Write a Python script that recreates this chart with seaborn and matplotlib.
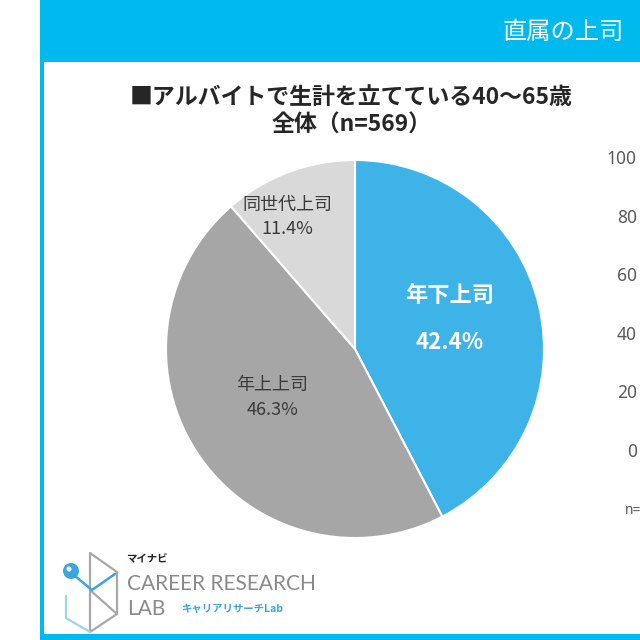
import matplotlib
matplotlib.use("Agg")
import matplotlib.pyplot as plt
import seaborn as sns
import numpy as np
from matplotlib.patches import Rectangle, Circle
from matplotlib.lines import Line2D

# ---------------- data ----------------
header_text = "直属の上司"
title_line1 = "■アルバイトで生計を立てている40～65歳"
title_line2 = "全体（n=569）"
categories = ["年下上司", "年上上司", "同世代上司"]
shares = [42.4, 46.3, 11.4]
side_ticks = [0, 20, 40, 60, 80, 100]
side_note = "n="
logo_top = "マイナビ"
logo_main = "CAREER RESEARCH"
logo_lab = "LAB"
logo_sub = "キャリアリサーチLab"

# ---------------- style ----------------
slice_colors = ["#3db3e8", "#a6a6a6", "#d9d9d9"]
label_colors = ["white", "#3a3a3a", "#3a3a3a"]
label_weights = ["bold", "normal", "normal"]
label_sizes = [16, 13, 13]
label_dist = [0.525, 0.505, 0.785]
label_turn = [3.8, -4.0, 6.6]   # degrees from the slice's middle
label_gap = [17, 9, 8.5]   # half distance between the two lines (points)
HEADER = "#00b9ef"

sns.set_theme(style="white")
plt.rcParams['font.family'] = ['Noto Sans CJK JP', 'DejaVu Sans']

W = H = 640
fig = plt.figure(figsize=(6.4, 6.4), dpi=100)
fig.patch.set_facecolor("white")


def fx(px):
    return px / W


def fy(py):
    return 1 - py / H


# frame
fig.add_artist(Rectangle((fx(40), fy(62)), 1 - fx(40), 62 / H,
                         transform=fig.transFigure, color=HEADER, lw=0))
fig.add_artist(Rectangle((fx(40), 0), 4 / W, 1,
                         transform=fig.transFigure, color=HEADER, lw=0))
fig.add_artist(Rectangle((fx(40), 0), 1 - fx(40), 6 / H,
                         transform=fig.transFigure, color=HEADER, lw=0))
fig.text(fx(502), fy(32), header_text, color="white", fontsize=17.5,
         ha="left", va="center")

# titles
fig.text(fx(351), fy(98), title_line1, fontsize=16.5, fontweight="bold",
         color="#262626", ha="center", va="center")
fig.text(fx(352), fy(125), title_line2, fontsize=16.5, fontweight="bold",
         color="#262626", ha="center", va="center")

# pie
ax = fig.add_axes([fx(166), fy(539), 378 / W, 380 / H])
wedges, _ = ax.pie(shares, colors=slice_colors, startangle=90,
                   counterclock=False,
                   wedgeprops=dict(edgecolor="white", linewidth=1.5))
ax.set_aspect("equal")
ax.set_xlim(-1.0, 1.0)
ax.set_ylim(-1.0, 1.0)
ax.axis("off")

for w, name, val, r, turn, gap, c, fw, fs in zip(
        wedges, categories, shares, label_dist, label_turn, label_gap,
        label_colors, label_weights, label_sizes):
    th = np.deg2rad((w.theta1 + w.theta2) / 2 + turn)
    x, y = r * np.cos(th), r * np.sin(th)
    ax.annotate(name, (x, y), xytext=(0, gap), textcoords="offset points",
                ha="center", va="center", color=c, fontweight=fw,
                fontsize=fs)
    ax.annotate(f"{val:.1f}%", (x, y), xytext=(0, -gap),
                textcoords="offset points", ha="center", va="center",
                color=c, fontweight=fw, fontsize=fs)

# partial side axis (cut off at the right edge)
ax2 = fig.add_axes([fx(645), fy(450), 0.1, (450 - 157) / H])
ax2.set_ylim(0, 100)
ax2.set_yticks(side_ticks)
ax2.set_xticks([])
ax2.tick_params(axis="y", left=False, labelsize=12.5, labelcolor="#595959",
                pad=0)
for lab in ax2.get_yticklabels():
    lab.set_family(["Noto Sans", "DejaVu Sans"])
for s in ax2.spines.values():
    s.set_visible(False)
ax2.patch.set_alpha(0)
fig.text(fx(641), fy(511), side_note, fontsize=10, color="#595959",
         ha="right", va="center", family=["Noto Sans", "DejaVu Sans"])

# logo
GREY = "#a8a8a8"
BLUE = "#3aa6dd"


def line(pts, color, lw):
    xs = [fx(p[0]) for p in pts]
    ys = [fy(p[1]) for p in pts]
    fig.add_artist(Line2D(xs, ys, transform=fig.transFigure, color=color,
                          lw=lw, solid_capstyle="round"))


line([(90, 553), (117, 572), (117, 614), (90, 632), (90, 553)], GREY, 1.6)
line([(90, 590), (117, 614)], GREY, 1.6)
line([(66, 596), (66, 618), (90, 632)], "#9fd3ee", 1.6)
line([(75, 576), (92, 590), (115, 574)], BLUE, 1.8)
fig.add_artist(Circle((fx(71), fy(571)), 8 / W, transform=fig.transFigure,
                      color=BLUE, lw=0))
fig.add_artist(Circle((fx(69), fy(569)), 2.5 / W, transform=fig.transFigure,
                      color="white", lw=0))

fig.text(fx(126), fy(559), logo_top, fontsize=7.5, fontweight="bold",
         color="#222222", ha="left", va="center")
fig.text(fx(127), fy(584), logo_main, fontsize=15, fontweight="normal",
         color="#8a8a8a", ha="left", va="center", family=["Lato", "DejaVu Sans"])
fig.text(fx(127), fy(609), logo_lab, fontsize=15, fontweight="normal",
         color="#8a8a8a", ha="left", va="center", family=["Lato", "DejaVu Sans"])
fig.text(fx(181), fy(609), logo_sub, fontsize=7.5, fontweight="bold",
         color=BLUE, ha="left", va="center")

fig.savefig("out.png", dpi=100)
